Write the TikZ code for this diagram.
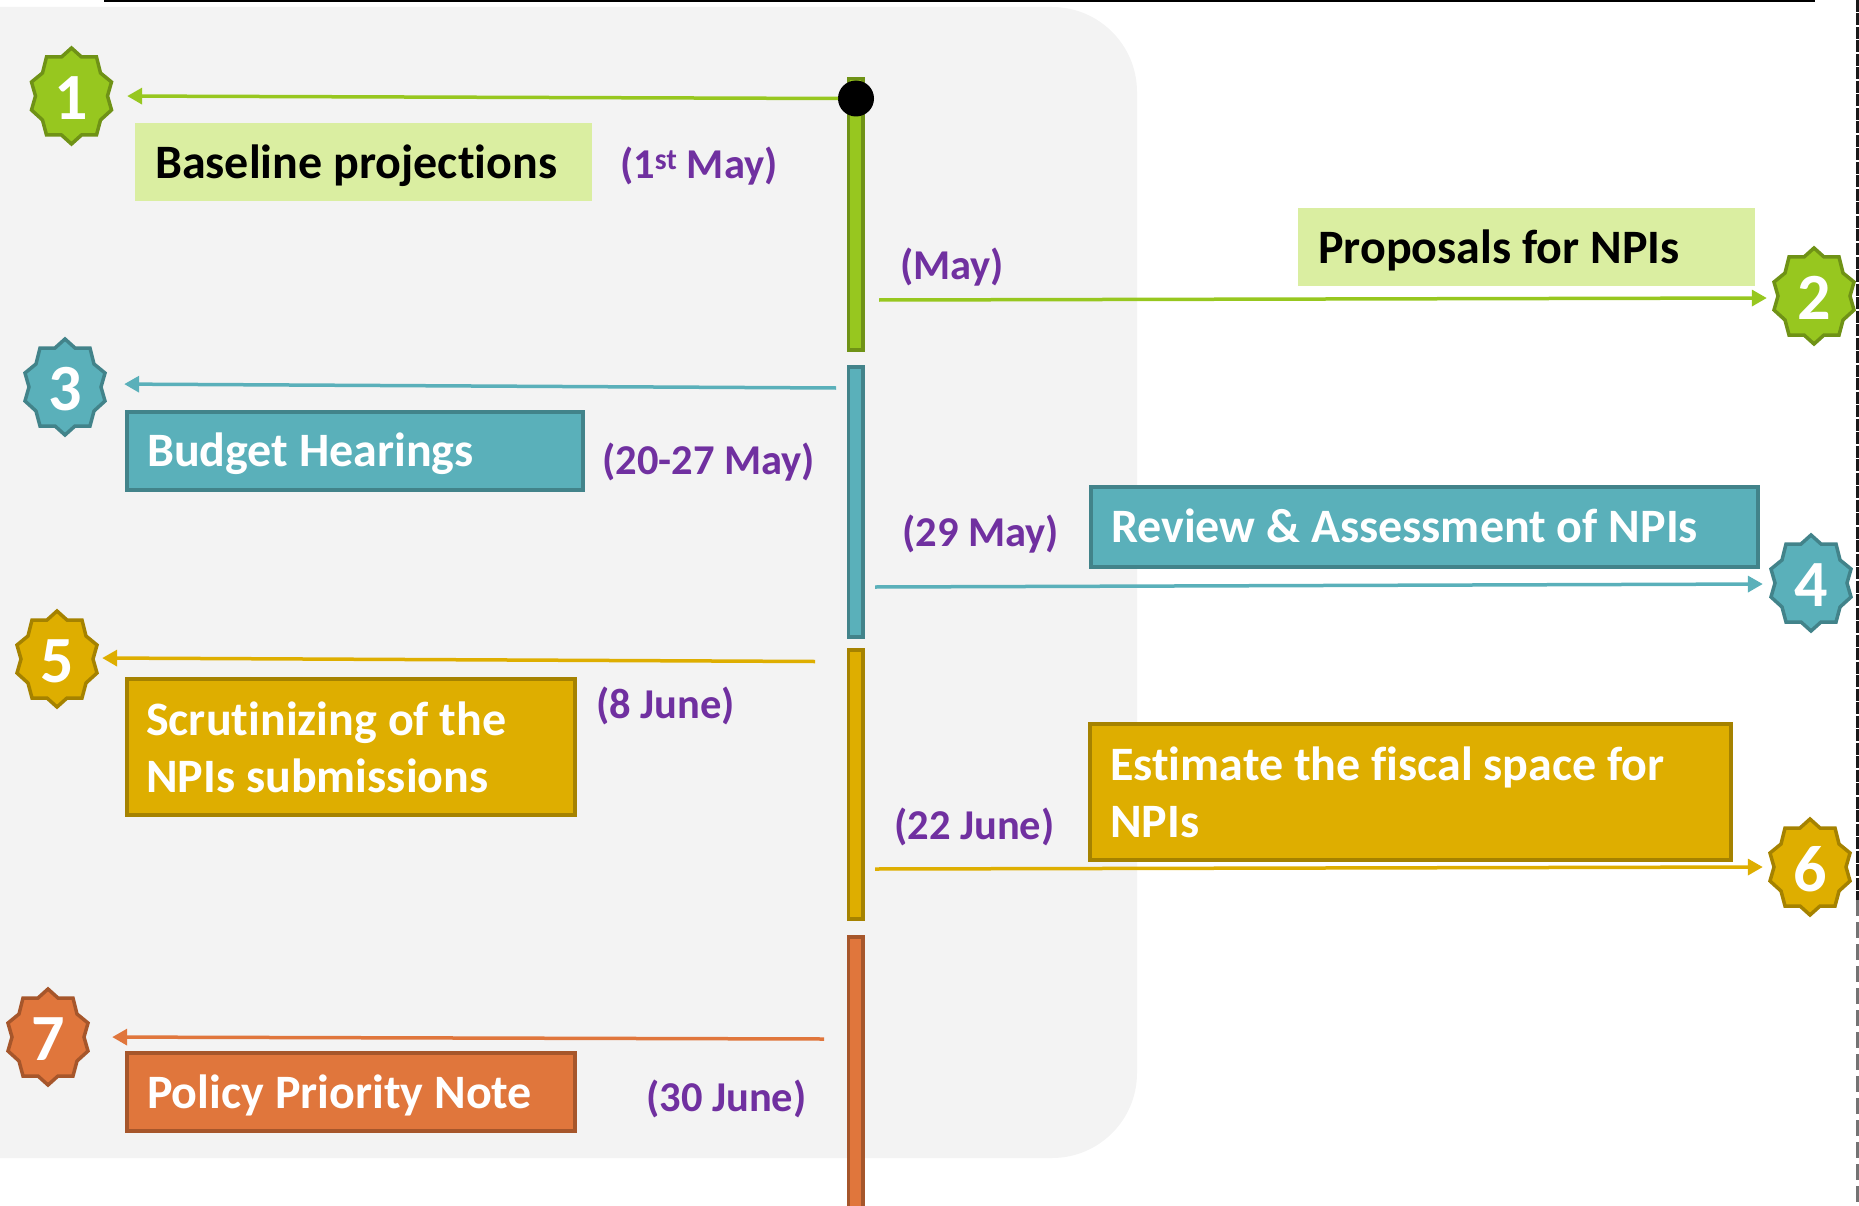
\documentclass[tikz,border=0pt]{standalone}
\usepackage{fontspec}
\setmainfont{Carlito}[Ligatures=NoCommon]
\usetikzlibrary{arrows.meta}
\definecolor{grn}{HTML}{97C71F}
\definecolor{grnd}{HTML}{6F9216}
\definecolor{grnl}{HTML}{DAEEA1}
\definecolor{teal2}{HTML}{5AB0BA}
\definecolor{teald}{HTML}{42838A}
\definecolor{gold}{HTML}{DEAE00}
\definecolor{goldd}{HTML}{A58200}
\definecolor{orng}{HTML}{E0763C}
\definecolor{orngd}{HTML}{A6562B}
\definecolor{purp}{HTML}{7030A0}
\definecolor{panel}{HTML}{F3F3F3}
\tikzset{
  x=1pt,y=-1pt,
  starnum/.style={text=white,font=\fontsize{66}{66}\selectfont\bfseries,minimum width=84pt,minimum height=100pt,inner sep=0pt,anchor=center},
  box/.style={anchor=north west,inner sep=0pt,outer sep=0pt,line width=4pt},
  boxtxt/.style={anchor=base west,inner sep=0pt,font=\fontsize{48}{48}\selectfont\bfseries},
  datetxt/.style={anchor=base west,inner sep=0pt,text=purp,font=\fontsize{42.5}{42.5}\selectfont\bfseries},
  conn/.style={line width=3.5pt,-{Triangle[length=15pt,width=16pt]}},
  barf/.style={line width=3.5pt}
}
\newcommand{\badge}[6]{%
  \draw[shift={(#2,#3)},fill=#4,draw=#5,line width=3.5pt,line join=miter,miter limit=2]
    (0,-48)--(10,-39)--(25,-39)--(29,-23)--(40,-14)--(36,0)--(40,14)--(29,24)--(25,39)--(10,39)--(0,48)
    --(-10,39)--(-25,39)--(-29,24)--(-40,14)--(-36,0)--(-40,-14)--(-29,-23)--(-25,-39)--(-10,-39)--cycle;
  \node[starnum] (#1) at (#2,#3) {\raisebox{-2pt}[\height][\depth]{#6}};}
\begin{document}
\begin{tikzpicture}
\useasboundingbox (0,0) rectangle (1859,1206);
\fill[panel] (0,7) [rounded corners=85pt] -- (1137,7) -- (1137,1158) [sharp corners] -- (0,1158) -- cycle;
\coordinate (tl) at (104,1);
\coordinate (tr) at (1815,1);
\draw[black,line width=3pt] (tl) -- (tr);
\coordinate (rt) at (1857.5,0);
\coordinate (rm) at (1857.5,900);
\coordinate (rb) at (1857.5,1206);
\draw[black!90,line width=3.5pt,dash pattern=on 12pt off 1.5pt] (rt) -- (rm);
\draw[black!55,line width=3.5pt,dash pattern=on 16pt off 6pt] (rm) -- (rb);
% bars
\draw[barf,fill=grn,draw=grnd] (848.5,78.5) rectangle (863,350);
\draw[barf,fill=teal2,draw=teald] (848.5,367) rectangle (863,637);
\draw[barf,fill=gold,draw=goldd] (848.5,650) rectangle (863,919);
\draw[barf,fill=orng,draw=orngd] (848.5,937) rectangle (863,1210);
\node[circle,fill=black,minimum size=36pt,inner sep=0pt] (dot) at (856,98.5) {};
% boxes
\node[box,fill=grnl,minimum width=457pt,minimum height=78pt] (b1) at (135,123) {};
\node[box,fill=grnl,minimum width=457pt,minimum height=78pt] (b2) at (1298,208) {};
\node[box,fill=teal2,draw=teald,minimum width=456pt,minimum height=78pt] (b3) at (127,411.5) {};
\node[box,fill=teal2,draw=teald,minimum width=667pt,minimum height=80pt] (b4) at (1091,486.5) {};
\node[box,fill=gold,draw=goldd,minimum width=448pt,minimum height=136pt] (b5) at (127,678.5) {};
\node[box,fill=gold,draw=goldd,minimum width=641pt,minimum height=136pt] (b6) at (1090,723.5) {};
\node[box,fill=orng,draw=orngd,minimum width=448pt,minimum height=78pt] (b7) at (127,1052.5) {};
% box texts
\node[boxtxt] (t1) at (155,178.5) {Baseline projections};
\node[boxtxt] (t2) at (1318,263.5) {Proposals for NPIs};
\node[boxtxt,text=white] (t3) at (147,466.5) {Budget Hearings};
\node[boxtxt,text=white] (t4) at (1111,542.5) {Review \& Assessment of NPIs};
\node[boxtxt,text=white] (t5a) at (146,735.5) {Scrutinizing of the};
\node[boxtxt,text=white] (t5b) at (146,792.5) {NPIs submissions};
\node[boxtxt,text=white] (t6a) at (1110,780.5) {Estimate the fiscal space for};
\node[boxtxt,text=white] (t6b) at (1110,837.5) {NPIs};
\node[boxtxt,text=white] (t7) at (147,1108.5) {Policy Priority Note};
% dates
\node[datetxt] (d1) at (620,179) {(1\textsuperscript{st} May)};
\node[datetxt] (d2) at (900,279.5) {(May)};
\node[datetxt] (d3) at (602,474.5) {(20-27 May)};
\node[datetxt] (d4) at (902,546.5) {(29 May)};
\node[datetxt] (d5) at (596,718.5) {(8 June)};
\node[datetxt] (d6) at (894,839.5) {(22 June)};
\node[datetxt] (d7) at (646,1111.5) {(30 June)};
% badges
\badge{n1}{71.5}{96}{grn}{grnd}{1}
\badge{n2}{1814}{296}{grn}{grnd}{2}
\badge{n3}{65}{387}{teal2}{teald}{3}
\badge{n4}{1811}{583}{teal2}{teald}{4}
\badge{n5}{57}{659}{gold}{goldd}{5}
\badge{n6}{1810}{867}{gold}{goldd}{6}
\badge{n7}{48}{1037}{orng}{orngd}{7}
% connector starts
\coordinate (s1) at (838,98.5);
\coordinate (s2) at (879,300);
\coordinate (s3) at (836,388);
\coordinate (s4) at (875,587);
\coordinate (s5) at (815,661.5);
\coordinate (s6) at (875,869);
\coordinate (s7) at (824,1039);
\draw[conn,grn,shorten >=13.5pt] (s1) -- (n1.east);
\draw[conn,grn,shorten >=5pt] (s2) -- ([yshift=-2pt]n2.west);
\draw[conn,teal2,shorten >=17pt] (s3) -- ([yshift=3pt]n3.east);
\draw[conn,teal2,shorten >=6pt] (s4) -- ([yshift=-1pt]n4.west);
\draw[conn,gold,shorten >=3pt] (s5) -- ([yshift=1pt]n5.east);
\draw[conn,gold,shorten >=5pt] (s6) -- (n6.west);
\draw[conn,orng,shorten >=22pt] (s7) -- (n7.east);
\end{tikzpicture}
\end{document}
